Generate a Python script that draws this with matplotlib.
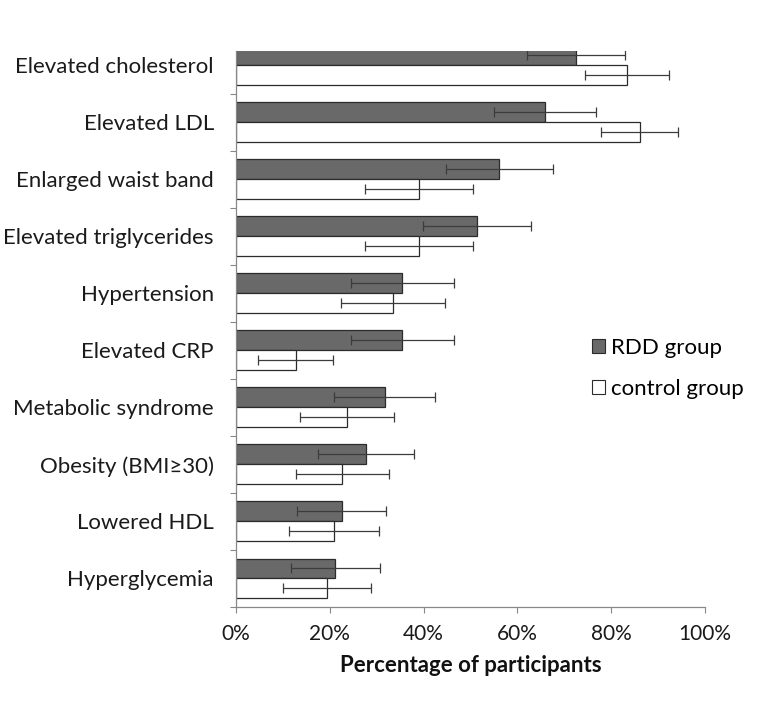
import matplotlib
matplotlib.use("Agg")
import matplotlib.pyplot as plt
import numpy as np
from matplotlib.patches import Patch
from matplotlib.ticker import FixedLocator, PercentFormatter

plt.rcParams["font.family"] = ["Lato", "DejaVu Sans"]

categories = [
    "Elevated cholesterol",
    "Elevated LDL",
    "Enlarged waist band",
    "Elevated triglycerides",
    "Hypertension",
    "Elevated CRP",
    "Metabolic syndrome",
    "Obesity (BMI\u226530)",
    "Lowered HDL",
    "Hyperglycemia",
]
rdd = [72.5, 65.9, 56.1, 51.3, 35.5, 35.5, 31.7, 27.7, 22.5, 21.2]
rdd_err = [10.4, 10.9, 11.4, 11.5, 11.0, 11.0, 10.7, 10.2, 9.5, 9.5]
ctrl = [83.4, 86.1, 39.0, 39.0, 33.4, 12.7, 23.7, 22.7, 20.9, 19.4]
ctrl_err = [9.0, 8.2, 11.5, 11.5, 11.1, 8.0, 10.0, 10.0, 9.6, 9.3]

RDD_COLOR = "#696969"
EDGE = "#2b2b2b"
ERR_COLOR = "#3c3c3c"

fig = plt.figure(figsize=(7.58, 7.08), dpi=100)
ax = fig.add_axes([236 / 758, 101 / 708, 469 / 758, 556.5 / 708])

y = np.arange(len(categories))
h = 0.35
err_kw = dict(ecolor=ERR_COLOR, elinewidth=0.9, capsize=3.6, capthick=0.9)

ax.barh(y - h / 2, rdd, height=h, color=RDD_COLOR, edgecolor=EDGE, linewidth=0.9,
        xerr=rdd_err, error_kw=err_kw)
ax.barh(y + h / 2, ctrl, height=h, color="white", edgecolor=EDGE, linewidth=0.9,
        xerr=ctrl_err, error_kw=err_kw)

ax.set_xlim(0, 100)
ax.set_ylim(len(categories) - 0.5, -0.255)

ax.set_yticks(y)
ax.set_yticklabels(categories, fontsize=16, color="#1a1a1a")
ax.yaxis.set_minor_locator(FixedLocator(np.arange(0.5, len(categories), 1.0)))
ax.tick_params(axis="y", which="major", length=0, pad=16)
ax.tick_params(axis="y", which="minor", length=4, width=0.8, color="#888888")

ax.set_xticks(np.arange(0, 101, 20))
ax.xaxis.set_major_formatter(PercentFormatter(decimals=0))
ax.tick_params(axis="x", length=4, width=0.8, color="#888888", labelsize=15,
               labelcolor="#1a1a1a", pad=8)

for side in ("top", "right"):
    ax.spines[side].set_visible(False)
for side in ("left", "bottom"):
    ax.spines[side].set_color("#888888")
    ax.spines[side].set_linewidth(0.9)

ax.set_xlabel("Percentage of participants", fontsize=16, fontweight="bold",
              labelpad=8, color="#111111")

handles = [
    Patch(facecolor=RDD_COLOR, edgecolor=EDGE, linewidth=0.8, label="RDD group"),
    Patch(facecolor="white", edgecolor=EDGE, linewidth=0.8, label="control group"),
]
fig.legend(handles=handles, loc="upper left", bbox_to_anchor=(583 / 758, 1 - 329 / 708),
           frameon=False, fontsize=16, handlelength=0.6, handleheight=0.6,
           handletextpad=0.25, labelspacing=0.95, borderaxespad=0)

fig.savefig("out.png", dpi=100)
